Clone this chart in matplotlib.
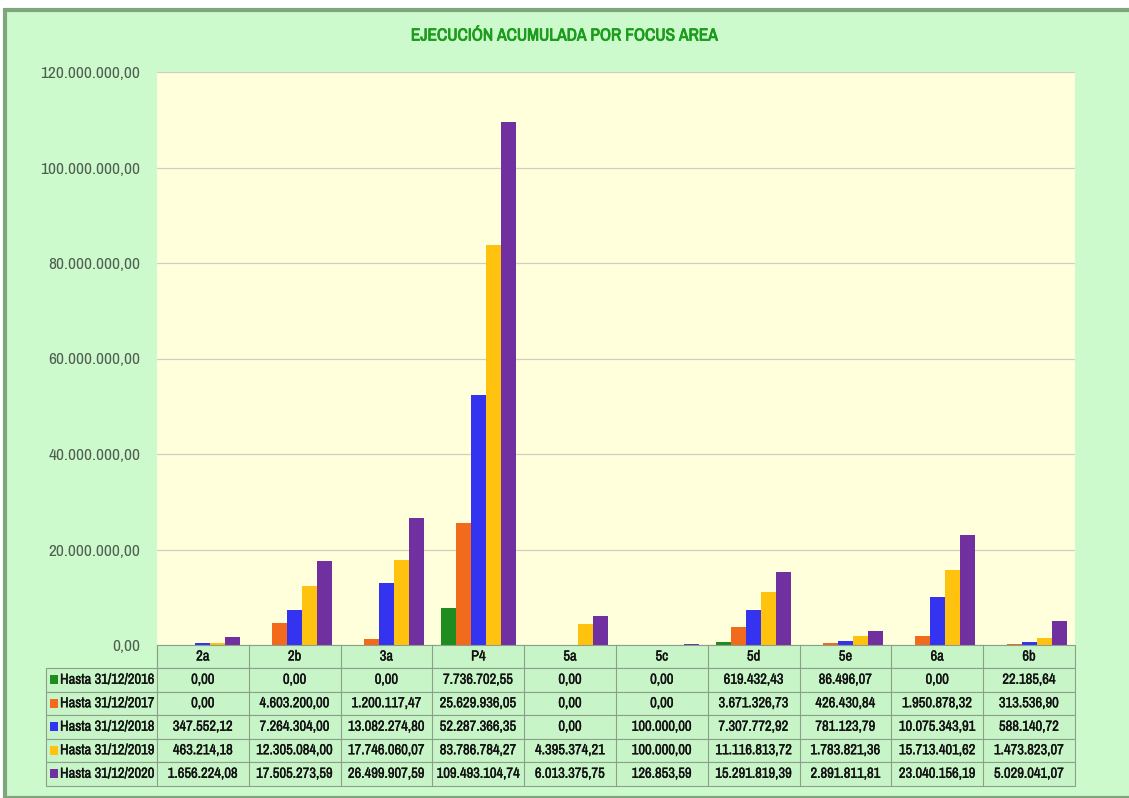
import numpy as np
import matplotlib.pyplot as plt
import matplotlib.patheffects as pe
from matplotlib import font_manager
from matplotlib.patches import Rectangle

categories = ['2a', '2b', '3a', 'P4', '5a', '5c', '5d', '5e', '6a', '6b']
series_names = ['Hasta 31/12/2016', 'Hasta 31/12/2017', 'Hasta 31/12/2018',
                'Hasta 31/12/2019', 'Hasta 31/12/2020']
v2016 = [0.00, 0.00, 0.00, 7736702.55, 0.00, 0.00, 619432.43, 86496.07, 0.00, 22185.64]
v2017 = [0.00, 4603200.00, 1200117.47, 25629936.05, 0.00, 0.00, 3671326.73, 426430.84, 1950878.32, 313536.90]
v2018 = [347552.12, 7264304.00, 13082274.80, 52287366.35, 0.00, 100000.00, 7307772.92, 781123.79, 10075343.91, 588140.72]
v2019 = [463214.18, 12305084.00, 17746060.07, 83786784.27, 4395374.21, 100000.00, 11116813.72, 1783821.36, 15713401.62, 1473823.07]
v2020 = [1656224.08, 17505273.59, 26499907.59, 109493104.74, 6013375.75, 126853.59, 15291819.39, 2891811.81, 23040156.19, 5029041.07]
series = [v2016, v2017, v2018, v2019, v2020]
colors = ['#1e8c1e', '#f26a1b', '#3434f0', '#ffc20e', '#7030a0']
yticks = [0, 20e6, 40e6, 60e6, 80e6, 100e6, 120e6]

def es(v):
    s = f'{v:,.2f}'
    return s.replace(',', 'X').replace('.', ',').replace('X', '.')

# look for a narrow face (Calibri-like look); otherwise squeeze with a smaller size
names = sorted({f.name for f in font_manager.fontManager.ttflist})
narrow = [nm for nm in names if 'Narrow' in nm or 'Condensed' in nm]
if narrow:
    fam = [narrow[0], 'DejaVu Sans']
    scale = 1.0
else:
    fam = ['Open Sans', 'DejaVu Sans']
    scale = 0.82
plt.rcParams['font.family'] = fam

W, H = 1129, 798
fig = plt.figure(figsize=(W / 100, H / 100), dpi=100, facecolor='white')
bg = '#ccfacc'
fig.patches.append(Rectangle((5 / W, 0), 1, 1 - 10 / H, transform=fig.transFigure,
                             facecolor=bg, edgecolor='#7fa67f', linewidth=3, zorder=-10))

x0, x1 = 157, 1075
ytop, ybot = 72, 645
ax = fig.add_axes([x0 / W, 1 - ybot / H, (x1 - x0) / W, (ybot - ytop) / H])
ax.set_facecolor('#ffffdc')
n = len(categories)
x = np.arange(n)
bw = 0.163
for i, (vals, c) in enumerate(zip(series, colors)):
    ax.bar(x + (i - 2) * bw, vals, width=bw, color=c, zorder=3)
ax.set_xlim(-0.5, n - 0.5)
ax.set_ylim(0, 120e6)
ax.set_yticks(yticks)
ax.set_yticklabels([es(t) for t in yticks], fontsize=12.5 * scale, color='#4f5f4f')
ax.tick_params(axis='y', length=0, pad=12)
ax.set_xticks([])
ax.grid(axis='y', color='#d0d0c0', linewidth=0.9, zorder=0)
for s in ax.spines.values():
    s.set_visible(False)

fig.text(565 / W, 1 - 36 / H, 'EJECUCIÓN ACUMULADA POR FOCUS AREA',
         ha='center', va='center', fontsize=12.5 * scale, fontweight='bold', color='#1c9c1c',
         path_effects=[pe.withStroke(linewidth=0.6, foreground='#1c9c1c')])

# data table
tx0 = 46
row_h = [23, 23.5, 23.5, 23.5, 23.5, 23.5]
tb = fig.add_axes([0, 0, 1, 1], facecolor='none')
tb.set_xlim(0, W)
tb.set_ylim(H, 0)
tb.axis('off')
lc = '#8aa08a'
colw = (x1 - x0) / n
fs = 10.5 * scale
semi = [pe.withStroke(linewidth=0.25, foreground='#111111')]
y = ybot
for r in range(6):
    h = row_h[r]
    start = x0 if r == 0 else tx0
    tb.add_patch(Rectangle((start, y), x1 - start, h, facecolor='#c8f5c8',
                           edgecolor=lc, linewidth=0.8))
    for j in range(n):
        cx = x0 + j * colw
        tb.plot([cx, cx], [y, y + h], color=lc, lw=0.8)
        txt = categories[j] if r == 0 else es(series[r - 1][j])
        tb.text(cx + colw / 2, y + h / 2, txt, ha='center', va='center',
                fontsize=fs, color='#111111', path_effects=semi)
    if r > 0:
        tb.add_patch(Rectangle((tx0 + 4, y + h / 2 - 4.5), 8, 9, facecolor=colors[r - 1],
                               edgecolor='none'))
        tb.text(tx0 + 14, y + h / 2, series_names[r - 1], ha='left', va='center',
                fontsize=fs, color='#111111', path_effects=semi)
    y += h

fig.savefig('out.png', dpi=100, facecolor=fig.get_facecolor())
